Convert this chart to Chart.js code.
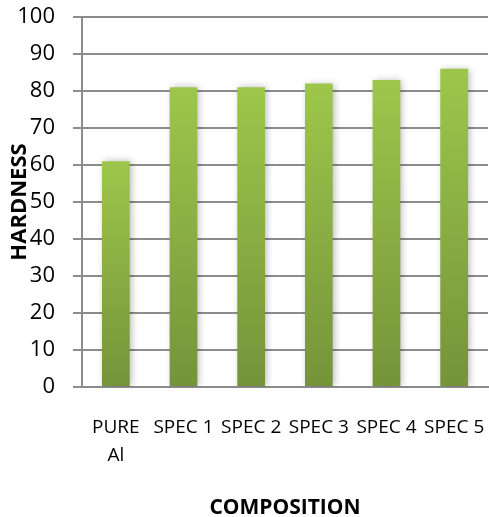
<!DOCTYPE html>
<html>
<head>
<meta charset="utf-8">
<script src="https://cdn.jsdelivr.net/npm/chart.js@4.4.1/dist/chart.umd.min.js"></script>
<style>
  html, body { margin: 0; padding: 0; background: #fff; }
  #wrap { width: 489px; height: 517px; position: relative; }
</style>
</head>
<body>
<div id="wrap"><canvas id="hardness"></canvas></div>
<script>
// ── DATA ──────────────────────────────────────────────────────────────────────
const categories = [['PURE', 'Al'], 'SPEC 1', 'SPEC 2', 'SPEC 3', 'SPEC 4', 'SPEC 5'];
const hardness   = [61, 81, 81, 82, 83, 86];
const yTicks     = [0, 10, 20, 30, 40, 50, 60, 70, 80, 90, 100];

const FONT = "'Open Sans', sans-serif";

// per-bar vertical gradient: light green on top, olive at the base
function barFill(ctx) {
  const chart = ctx.chart;
  const area  = chart.chartArea;
  if (!area || ctx.dataIndex === undefined) return '#8cb043';
  const y   = chart.scales.y;
  const top = y.getPixelForValue(ctx.raw);
  const bot = y.getPixelForValue(0);
  const g = chart.ctx.createLinearGradient(0, top, 0, bot);
  g.addColorStop(0, '#9dc74b');
  g.addColorStop(1, '#75933a');
  return g;
}

// soft shadow behind the bars
const barShadow = {
  id: 'barShadow',
  beforeDatasetsDraw(chart) {
    const c = chart.ctx;
    c.save();
    c.shadowColor   = 'rgba(0,0,0,0.28)';
    c.shadowBlur    = 7;
    c.shadowOffsetX = 2;
    c.shadowOffsetY = 0;
  },
  afterDatasetsDraw(chart) {
    chart.ctx.restore();
  }
};

new Chart(document.getElementById('hardness'), {
  type: 'bar',
  data: {
    labels: categories,
    datasets: [{
      data:               hardness,
      backgroundColor:    barFill,
      borderWidth:        0,
      categoryPercentage: 1,
      barPercentage:      0.41
    }]
  },
  options: {
    responsive:          true,
    maintainAspectRatio: false,
    animation:           false,
    devicePixelRatio:    1,
    layout: { padding: { top: 17, right: 1, left: 0, bottom: 0 } },
    plugins: {
      legend:  { display: false },
      tooltip: { enabled: false }
    },
    scales: {
      x: {
        grid:   { display: false, drawTicks: false },
        border: { display: true, color: '#8c8c8c', width: 2 },
        ticks:  {
          color: '#000',
          padding: 26,
          maxRotation: 0,
          autoSkip: false,
          font: { family: FONT, size: 19, lineHeight: 1.5 }
        },
        title: {
          display: true,
          text: 'COMPOSITION',
          color: '#000',
          padding: { top: 0, bottom: -4 },
          font: { family: FONT, size: 21, weight: 'bold' }
        },
        // fixed axis band; label overhang must not shrink the plot
        afterFit: s => { s.height = 130; s.paddingLeft = 0; s.paddingRight = 0; }
      },
      y: {
        min: 0,
        max: 100,
        afterBuildTicks: s => { s.ticks = yTicks.map(v => ({ value: v })); },
        grid:   { color: '#8c8c8c', lineWidth: 2, tickLength: 9 },
        border: { display: true, color: '#8c8c8c', width: 2 },
        ticks:  {
          color: '#000',
          padding: 18,
          font: { family: FONT, size: 22 }
        },
        title: {
          display: true,
          text: 'HARDNESS',
          color: '#000',
          padding: { top: 7, bottom: 0 },
          font: { family: FONT, size: 22, weight: 'bold' }
        },
        afterFit: s => { s.width = 82; s.paddingTop = 0; s.paddingBottom = 0; }
      }
    }
  },
  plugins: [barShadow]
});
</script>
</body>
</html>
